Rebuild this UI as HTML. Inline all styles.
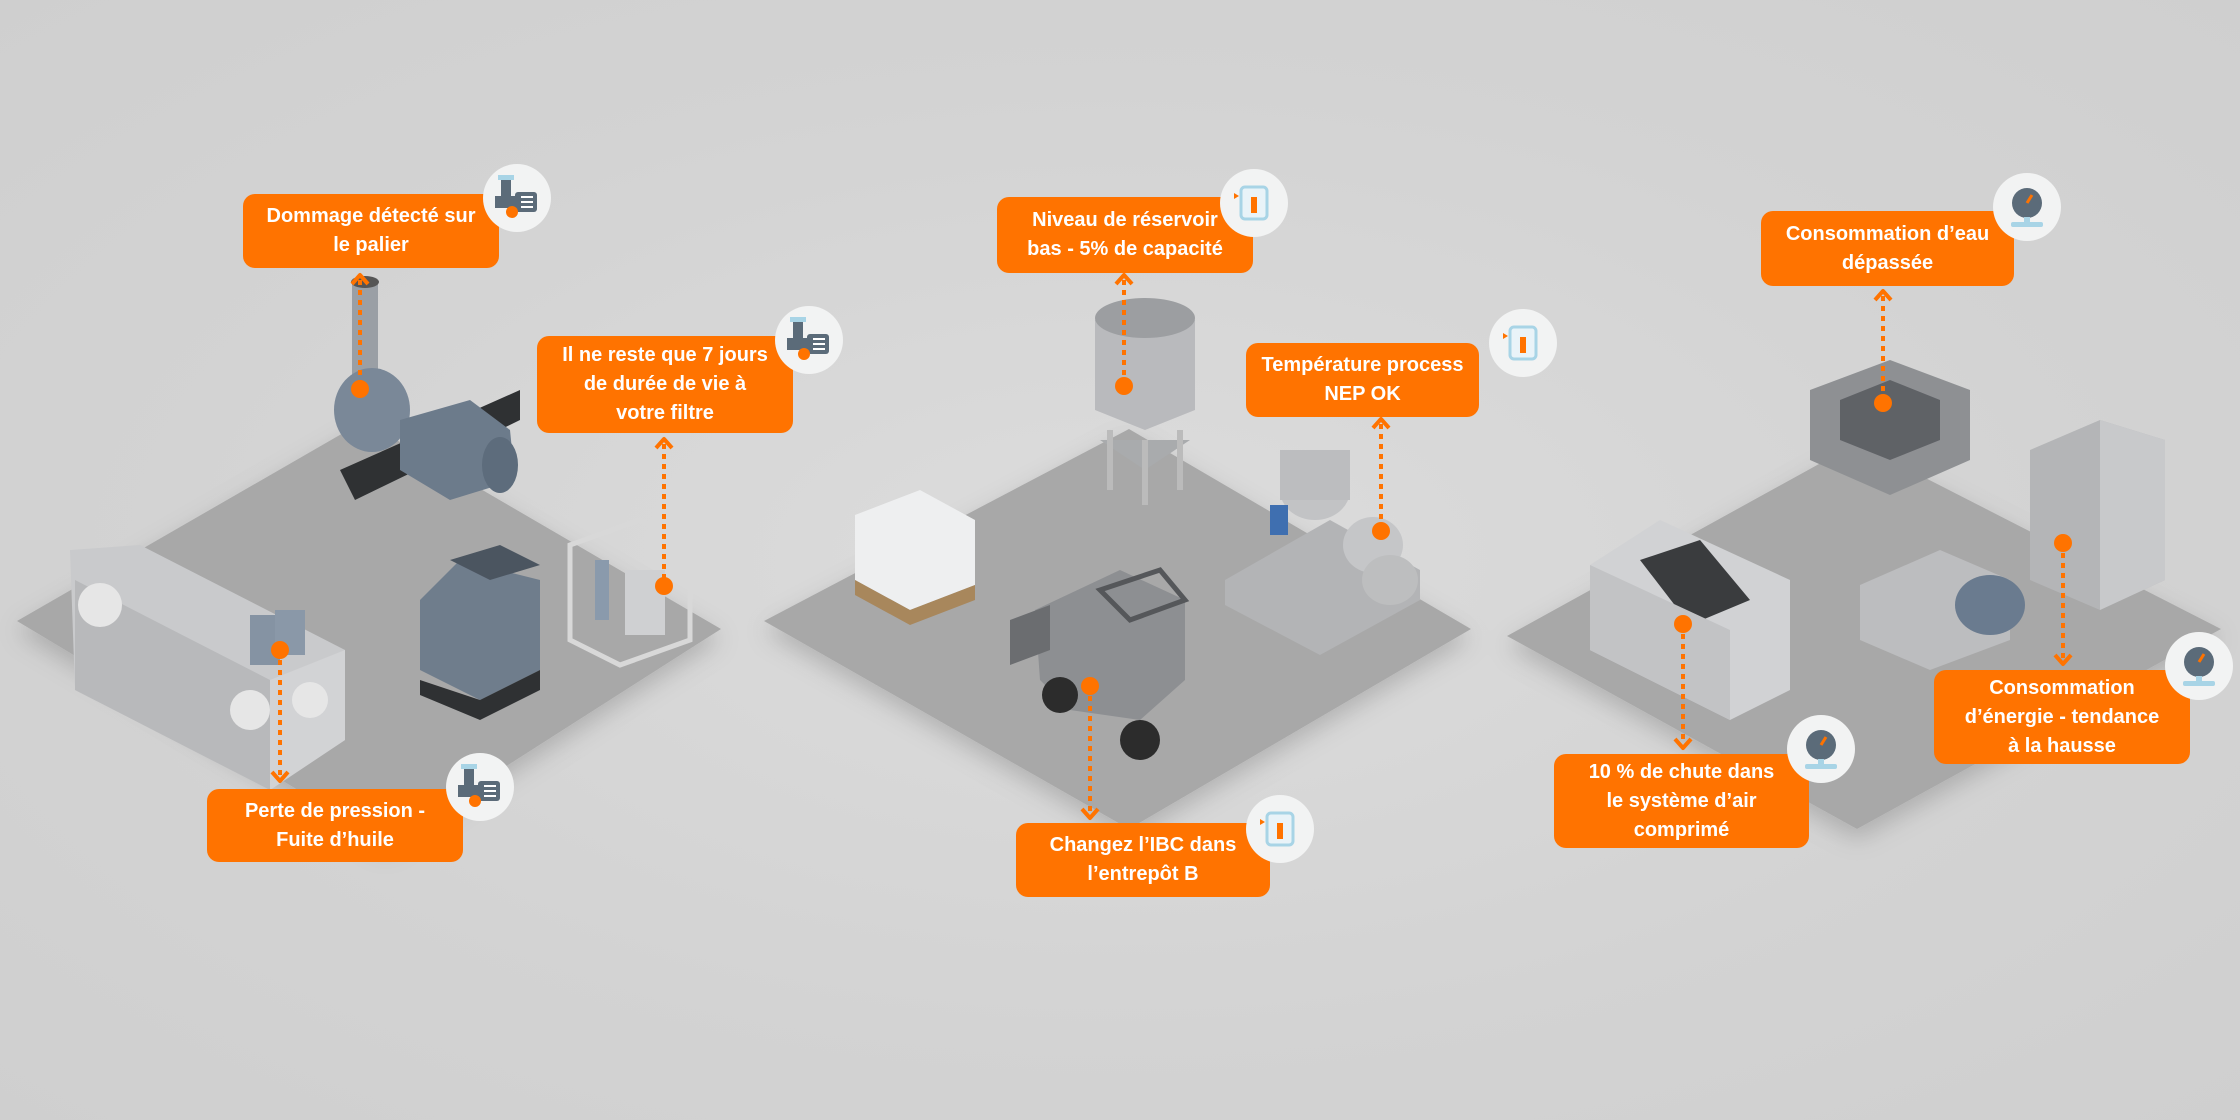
<!DOCTYPE html>
<html><head><meta charset="utf-8"><style>
html,body{margin:0;padding:0}
body{width:2240px;height:1120px;position:relative;overflow:hidden;background:radial-gradient(ellipse at 50% 50%,#dcdcdc 0%,#d3d3d3 60%,#cfcfcf 100%);font-family:"Liberation Sans",sans-serif}
svg{position:absolute;left:0;top:0}
.b{position:absolute;background:#ff7300;color:#fff;font-weight:bold;font-size:20px;line-height:29px;text-align:center;border-radius:12px;display:flex;align-items:center;justify-content:center;box-sizing:border-box;padding:0 10px}
.i{position:absolute;width:66px;height:66px;border-radius:50%;background:#f3f4f4;box-shadow:0 1px 4px rgba(0,0,0,.08)}
</style></head><body>
<svg width="2240" height="1120" viewBox="0 0 2240 1120">
<defs>
<filter id="sh" x="-10%" y="-10%" width="120%" height="130%"><feDropShadow dx="0" dy="10" stdDeviation="12" flood-color="#000" flood-opacity="0.18"/></filter>
</defs>
<g filter="url(#sh)" fill="#a8a8a8">
<polygon points="17,621 364,421 721,629 386,843"/>
<polygon points="764,621 1129,429 1471,629 1129,829"/>
<polygon points="1507,636 1857,443 2221,629 1857,829"/>
</g>
<!-- platform 1 machines -->
<rect x="352" y="280" width="26" height="110" fill="#9a9fa5"/><ellipse cx="365" cy="282" rx="14" ry="6" fill="#555"/>
<polygon points="340,470 520,390 520,420 355,500" fill="#2f3133"/>
<ellipse cx="372" cy="410" rx="38" ry="42" fill="#7a8898"/>
<polygon points="400,420 470,400 510,430 515,480 450,500 400,470" fill="#6c7b8b"/>
<ellipse cx="500" cy="465" rx="18" ry="28" fill="#5d6c7c"/>
<polygon points="70,550 140,545 345,650 345,740 270,790 75,690" fill="#c9cacc"/>
<polygon points="75,580 270,680 270,790 75,690" fill="#b8b9bb"/>
<polygon points="270,680 345,650 345,740 270,790" fill="#d2d3d5"/>
<circle cx="100" cy="605" r="22" fill="#e6e6e6"/><circle cx="250" cy="710" r="20" fill="#e6e6e6"/><circle cx="310" cy="700" r="18" fill="#e6e6e6"/>
<rect x="250" y="615" width="30" height="50" fill="#8593a3"/><rect x="275" y="610" width="30" height="45" fill="#8a98a8"/>
<polygon points="420,600 460,560 540,580 540,670 480,700 420,670" fill="#6f7d8c"/>
<polygon points="450,560 500,545 540,565 490,580" fill="#4b5560"/>
<polygon points="420,680 480,700 540,670 540,690 480,720 420,695" fill="#2f3133"/>
<polygon points="570,545 640,520 690,545 690,640 620,665 570,640" fill="none" stroke="#d8d8d8" stroke-width="5"/>
<rect x="595" y="560" width="14" height="60" fill="#8a9aac"/><rect x="625" y="570" width="40" height="65" fill="#cfd0d2"/>
<!-- platform 2 -->
<polygon points="1095,320 1145,300 1195,320 1195,410 1145,430 1095,410" fill="#b9babd"/>
<ellipse cx="1145" cy="318" rx="50" ry="20" fill="#9c9ea1"/>
<polygon points="1100,440 1145,470 1190,440" fill="#a9abad"/>
<line x1="1110" y1="430" x2="1110" y2="490" stroke="#bbb" stroke-width="6"/><line x1="1180" y1="430" x2="1180" y2="490" stroke="#bbb" stroke-width="6"/><line x1="1145" y1="440" x2="1145" y2="505" stroke="#bbb" stroke-width="6"/>
<polygon points="855,515 920,490 975,520 975,585 910,610 855,580" fill="#eeeff0"/>
<polygon points="855,580 910,610 975,585 975,600 910,625 855,595" fill="#a8875c"/>
<polygon points="1035,610 1120,570 1185,600 1185,680 1140,720 1070,710 1040,680" fill="#8d8f92"/>
<polygon points="1100,590 1160,570 1185,600 1130,620" fill="none" stroke="#55575a" stroke-width="5"/>
<circle cx="1060" cy="695" r="18" fill="#2c2c2c"/><circle cx="1140" cy="740" r="20" fill="#2c2c2c"/>
<polygon points="1010,620 1050,605 1050,650 1010,665" fill="#6b6d70"/>
<polygon points="1225,580 1330,520 1420,570 1420,600 1320,655 1225,605" fill="#b3b4b6"/>
<ellipse cx="1315" cy="490" rx="35" ry="30" fill="#c2c3c5"/><rect x="1280" y="450" width="70" height="50" fill="#bcbdbf"/>
<ellipse cx="1373" cy="545" rx="30" ry="28" fill="#c5c6c8"/><ellipse cx="1390" cy="580" rx="28" ry="25" fill="#bdbebf"/>
<rect x="1270" y="505" width="18" height="30" fill="#3f6fb0"/>
<!-- platform 3 -->
<polygon points="1810,390 1890,360 1970,390 1970,460 1890,495 1810,460" fill="#8e9093"/>
<polygon points="1840,400 1890,380 1940,400 1940,440 1890,460 1840,440" fill="#5f6266"/>
<polygon points="2030,450 2100,420 2165,440 2165,580 2100,610 2030,580" fill="#b4b5b7"/>
<polygon points="2100,420 2165,440 2165,580 2100,610" fill="#c8c9cb"/>
<polygon points="1590,565 1660,520 1790,580 1790,690 1730,720 1590,650" fill="#d1d2d4"/>
<polygon points="1640,560 1700,540 1750,600 1690,625" fill="#3a3c3e"/>
<polygon points="1590,565 1730,630 1730,720 1590,650" fill="#c2c3c5"/>
<polygon points="1860,585 1940,550 2010,580 2010,640 1930,670 1860,640" fill="#bcbdbf"/>
<ellipse cx="1990" cy="605" rx="35" ry="30" fill="#6a7b8f"/>
</svg>

<svg width="2240" height="1120" viewBox="0 0 2240 1120">
<g stroke="#ff7300" stroke-width="4" stroke-dasharray="5,5" fill="none">
<line x1="360" y1="280" x2="360" y2="389"/>
<line x1="664" y1="444" x2="664" y2="586"/>
<line x1="280" y1="650" x2="280" y2="776"/>
<line x1="1124" y1="280" x2="1124" y2="386"/>
<line x1="1381" y1="424" x2="1381" y2="531"/>
<line x1="1090" y1="686" x2="1090" y2="813"/>
<line x1="1883" y1="296" x2="1883" y2="403"/>
<line x1="2063" y1="543" x2="2063" y2="659"/>
<line x1="1683" y1="624" x2="1683" y2="743"/>
</g>
<g stroke="#ff7300" stroke-width="4" fill="none" stroke-linejoin="round">
<polyline points="352,284 360,275 368,284"/>
<polyline points="656,448 664,439 672,448"/>
<polyline points="272,772 280,781 288,772"/>
<polyline points="1116,284 1124,275 1132,284"/>
<polyline points="1373,428 1381,419 1389,428"/>
<polyline points="1082,809 1090,818 1098,809"/>
<polyline points="1875,300 1883,291 1891,300"/>
<polyline points="2055,655 2063,664 2071,655"/>
<polyline points="1675,739 1683,748 1691,739"/>
</g>
<g fill="#ff7300">
<circle cx="360" cy="389" r="9"/><circle cx="664" cy="586" r="9"/><circle cx="280" cy="650" r="9"/>
<circle cx="1124" cy="386" r="9"/><circle cx="1381" cy="531" r="9"/><circle cx="1090" cy="686" r="9"/>
<circle cx="1883" cy="403" r="9"/><circle cx="2063" cy="543" r="9"/><circle cx="1683" cy="624" r="9"/>
</g>
</svg>

<div class="b" style="left:243px;top:194px;width:256px;height:74px">Dommage détecté sur<br>le palier</div>
<div class="b" style="left:537px;top:336px;width:256px;height:97px">Il ne reste que 7 jours<br>de durée de vie à<br>votre filtre</div>
<div class="b" style="left:207px;top:789px;width:256px;height:73px">Perte de pression -<br>Fuite d’huile</div>
<div class="b" style="left:997px;top:197px;width:256px;height:76px">Niveau de réservoir<br>bas - 5% de capacité</div>
<div class="b" style="left:1246px;top:343px;width:233px;height:74px">Température process<br>NEP OK</div>
<div class="b" style="left:1016px;top:823px;width:254px;height:74px">Changez l’IBC dans<br>l’entrepôt B</div>
<div class="b" style="left:1761px;top:211px;width:253px;height:75px">Consommation d’eau<br>dépassée</div>
<div class="b" style="left:1934px;top:670px;width:256px;height:94px">Consommation<br>d’énergie - tendance<br>à la hausse</div>
<div class="b" style="left:1554px;top:754px;width:255px;height:94px">10 % de chute dans<br>le système d’air<br>comprimé</div>

<svg width="2240" height="1120" viewBox="0 0 2240 1120">
<defs>
<g id="pump"><circle r="34" fill="#f2f3f3"/><rect x="-16" y="-20" width="10" height="22" fill="#5b6b79"/><rect x="-19" y="-23" width="16" height="5" fill="#a8d4e6"/><rect x="-22" y="-2" width="20" height="12" fill="#5b6b79"/><rect x="-2" y="-6" width="22" height="20" rx="3" fill="#5b6b79"/><g stroke="#fff" stroke-width="2"><line x1="4" y1="-1" x2="16" y2="-1"/><line x1="4" y1="4" x2="16" y2="4"/><line x1="4" y1="9" x2="16" y2="9"/></g><circle cx="-5" cy="14" r="6" fill="#ff7300"/></g>
<g id="tank"><circle r="34" fill="#f2f3f3"/><rect x="-13" y="-16" width="26" height="32" rx="4" fill="#e9f3f8" stroke="#a8d4e6" stroke-width="3"/><rect x="-3" y="-6" width="6" height="16" fill="#ff7300"/><polygon points="-20,-10 -15,-7 -20,-4" fill="#ff7300"/></g>
<g id="gauge"><circle r="34" fill="#f2f3f3"/><circle cy="-4" r="15" fill="#5b6b79"/><line x1="0" y1="-4" x2="5" y2="-12" stroke="#ff7300" stroke-width="3"/><rect x="-3" y="10" width="6" height="6" fill="#a8d4e6"/><rect x="-16" y="15" width="32" height="5" rx="2" fill="#a8d4e6"/></g>
</defs>
<use href="#pump" x="517" y="198"/>
<use href="#pump" x="809" y="340"/>
<use href="#pump" x="480" y="787"/>
<use href="#tank" x="1254" y="203"/>
<use href="#tank" x="1523" y="343"/>
<use href="#tank" x="1280" y="829"/>
<use href="#gauge" x="2027" y="207"/>
<use href="#gauge" x="2199" y="666"/>
<use href="#gauge" x="1821" y="749"/>
</svg>
</body></html>
